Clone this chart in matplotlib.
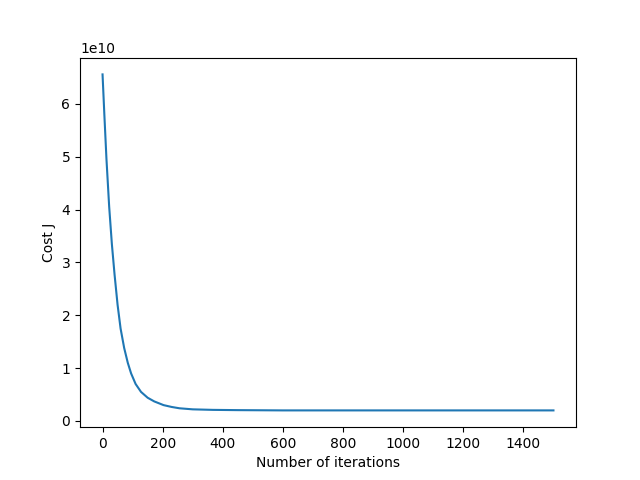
import matplotlib
matplotlib.use("Agg")
import matplotlib.pyplot as plt

iterations = [0, 6, 13, 22, 31, 40, 50, 60, 72, 84, 95, 110, 128, 150, 172, 203,
              230, 256, 300, 367, 450, 600, 800, 1000, 1200, 1500]
cost = [6.56e10, 5.80e10, 4.96e10, 4.06e10, 3.35e10, 2.77e10, 2.20e10, 1.75e10, 1.38e10,
        1.10e10, 0.90e10, 0.70e10, 0.55e10, 0.44e10, 0.37e10, 0.30e10,
        0.265e10, 0.24e10, 0.22e10, 0.21e10, 0.205e10, 0.20e10, 0.20e10, 0.20e10, 0.20e10, 0.20e10]

fig, ax = plt.subplots(figsize=(6.4, 4.8), dpi=100)
ax.plot(iterations, cost)
ax.set_xlabel("Number of iterations")
ax.set_ylabel("Cost J")
fig.savefig("out.png")
